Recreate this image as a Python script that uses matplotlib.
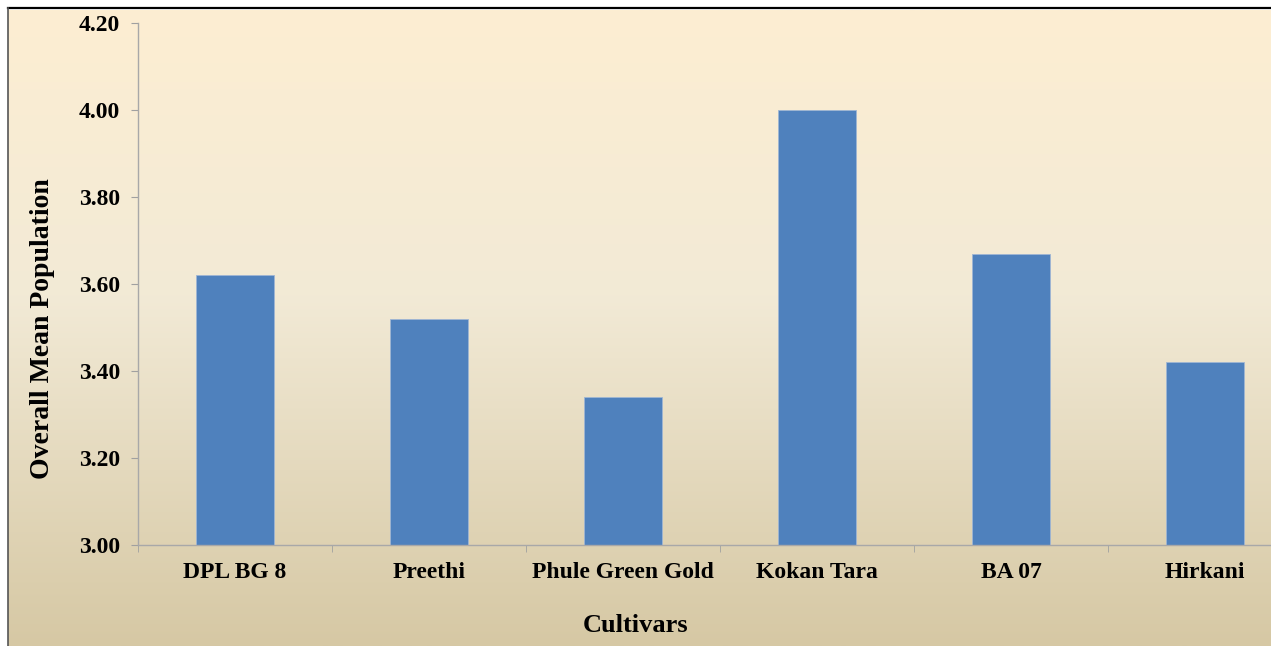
import matplotlib

matplotlib.use("Agg")

import matplotlib.pyplot as plt
import numpy as np
from matplotlib.colors import LinearSegmentedColormap
from matplotlib.lines import Line2D

cultivars = ["DPL BG 8", "Preethi", "Phule Green Gold", "Kokan Tara", "BA 07", "Hirkani"]
mean_population = [3.62, 3.52, 3.34, 4.00, 3.67, 3.42]
y_ticks = [3.00, 3.20, 3.40, 3.60, 3.80, 4.00, 4.20]

W, H = 1271, 646
plt.rcParams["font.family"] = ["Liberation Serif", "DejaVu Serif"]
plt.rcParams["font.weight"] = "bold"

fig = plt.figure(figsize=(W / 100, H / 100), dpi=100)
fig.patch.set_facecolor("white")

# parchment-style gradient behind the chart
bg = fig.add_axes([8 / W, 0, 1 - 8 / W, 1 - 10 / H])
bg.set_axis_off()
cmap = LinearSegmentedColormap.from_list(
    "parchment",
    [(0.0, (253 / 255, 238 / 255, 210 / 255)),
     (0.45, (242 / 255, 234 / 255, 214 / 255)),
     (1.0, (214 / 255, 200 / 255, 164 / 255))],
)
bg.imshow(np.linspace(0, 1, 256).reshape(-1, 1), aspect="auto", cmap=cmap,
          extent=(0, 1, 0, 1), origin="upper")
bg.set_xlim(0, 1)
bg.set_ylim(0, 1)

fig.add_artist(Line2D([8 / W, 1], [1 - 8 / H, 1 - 8 / H], transform=fig.transFigure,
                      color="black", linewidth=1.6))
fig.add_artist(Line2D([8 / W, 8 / W], [0, 1 - 8 / H], transform=fig.transFigure,
                      color="#555555", linewidth=1.2))

ax = fig.add_axes([138 / W, 1 - 545 / H, 1164 / W, 522 / H])
ax.patch.set_alpha(0)
x = np.arange(len(cultivars))
ax.bar(x, [v - 3.0 for v in mean_population], bottom=3.0, width=0.4,
       color="#4F81BD", edgecolor="#9fb6d4", linewidth=0.6)

ax.set_xlim(-0.5, len(cultivars) - 0.5)
ax.set_ylim(3.0, 4.2)
ax.set_yticks(y_ticks)
ax.set_yticklabels([f"{t:.2f}" for t in y_ticks], fontsize=17, fontweight="bold")
ax.set_xticks(x)
ax.set_xticklabels(cultivars, fontsize=17, fontweight="bold")
ax.set_xticks(np.arange(-0.5, len(cultivars)), minor=True)
ax.tick_params(axis="x", which="major", length=0, pad=12)
ax.tick_params(axis="x", which="minor", length=5, color="#a0a0a0", direction="out")
ax.tick_params(axis="y", length=5, color="#a0a0a0", pad=8)

for side in ("top", "right"):
    ax.spines[side].set_visible(False)
for side in ("left", "bottom"):
    ax.spines[side].set_color("#a8a8a8")
    ax.spines[side].set_linewidth(1.0)

fig.text(43 / W, 1 - 329 / H, "Overall Mean Population", rotation=90, ha="center",
         va="center", fontsize=20, fontweight="bold")
fig.text(636 / W, 1 - 625 / H, "Cultivars", ha="center", va="center",
         fontsize=19, fontweight="bold")

fig.savefig("out.png", dpi=100)
plt.close(fig)
